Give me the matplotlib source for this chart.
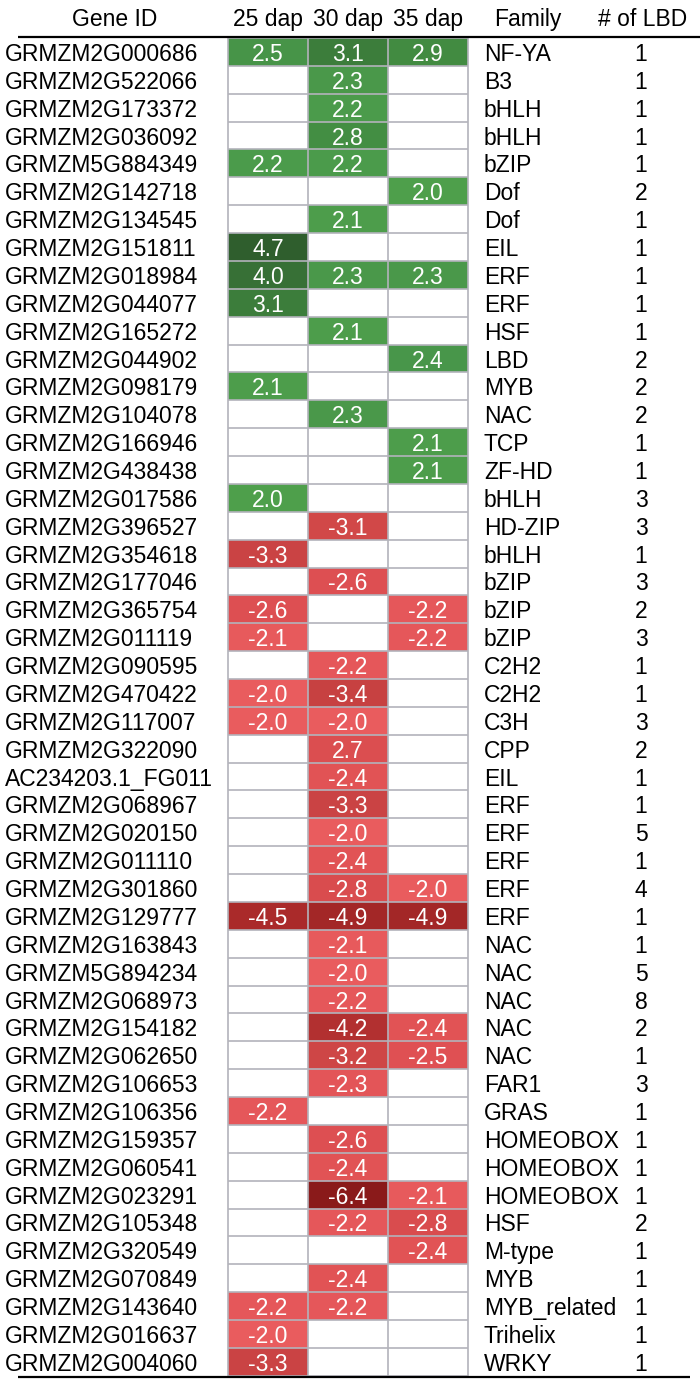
#!/usr/bin/env python3
"""Differentially expressed TF genes with LBD binding sites: log2 fold change
heat table at 25/30/35 dap, with family and number of LBD sites."""
import numpy as np
import matplotlib
matplotlib.use("Agg")
import matplotlib.pyplot as plt
from matplotlib.colors import LinearSegmentedColormap, Normalize

plt.rcParams["font.family"] = ["Liberation Sans", "DejaVu Sans"]

stages = ["25 dap", "30 dap", "35 dap"]

gene_ids = [
    "GRMZM2G000686", "GRMZM2G522066", "GRMZM2G173372", "GRMZM2G036092",
    "GRMZM5G884349", "GRMZM2G142718", "GRMZM2G134545", "GRMZM2G151811",
    "GRMZM2G018984", "GRMZM2G044077", "GRMZM2G165272", "GRMZM2G044902",
    "GRMZM2G098179", "GRMZM2G104078", "GRMZM2G166946", "GRMZM2G438438",
    "GRMZM2G017586",
    "GRMZM2G396527", "GRMZM2G354618", "GRMZM2G177046", "GRMZM2G365754",
    "GRMZM2G011119", "GRMZM2G090595", "GRMZM2G470422", "GRMZM2G117007",
    "GRMZM2G322090", "AC234203.1_FG011", "GRMZM2G068967", "GRMZM2G020150",
    "GRMZM2G011110", "GRMZM2G301860", "GRMZM2G129777", "GRMZM2G163843",
    "GRMZM5G894234", "GRMZM2G068973", "GRMZM2G154182", "GRMZM2G062650",
    "GRMZM2G106653", "GRMZM2G106356", "GRMZM2G159357", "GRMZM2G060541",
    "GRMZM2G023291", "GRMZM2G105348", "GRMZM2G320549", "GRMZM2G070849",
    "GRMZM2G143640", "GRMZM2G016637", "GRMZM2G004060",
]

nan = np.nan
fc_25 = [2.5, nan, nan, nan, 2.2, nan, nan, 4.7, 4.0, 3.1, nan, nan, 2.1,
         nan, nan, nan, 2.0,
         nan, -3.3, nan, -2.6, -2.1, nan, -2.0, -2.0, nan, nan, nan, nan,
         nan, nan, -4.5, nan, nan, nan, nan, nan, nan, -2.2, nan, nan, nan,
         nan, nan, nan, -2.2, -2.0, -3.3]
fc_30 = [3.1, 2.3, 2.2, 2.8, 2.2, nan, 2.1, nan, 2.3, nan, 2.1, nan, nan,
         2.3, nan, nan, nan,
         -3.1, nan, -2.6, nan, nan, -2.2, -3.4, -2.0, 2.7, -2.4, -3.3, -2.0,
         -2.4, -2.8, -4.9, -2.1, -2.0, -2.2, -4.2, -3.2, -2.3, nan, -2.6,
         -2.4, -6.4, -2.2, nan, -2.4, -2.2, nan, nan]
fc_35 = [2.9, nan, nan, nan, nan, 2.0, nan, nan, 2.3, nan, nan, 2.4, nan,
         nan, 2.1, 2.1, nan,
         nan, nan, nan, -2.2, -2.2, nan, nan, nan, nan, nan, nan, nan,
         nan, -2.0, -4.9, nan, nan, nan, -2.4, -2.5, nan, nan, nan,
         nan, -2.1, -2.8, -2.4, nan, nan, nan, nan]

families = [
    "NF-YA", "B3", "bHLH", "bHLH", "bZIP", "Dof", "Dof", "EIL", "ERF", "ERF",
    "HSF", "LBD", "MYB", "NAC", "TCP", "ZF-HD", "bHLH",
    "HD-ZIP", "bHLH", "bZIP", "bZIP", "bZIP", "C2H2", "C2H2", "C3H", "CPP",
    "EIL", "ERF", "ERF", "ERF", "ERF", "ERF", "NAC", "NAC", "NAC", "NAC",
    "NAC", "FAR1", "GRAS", "HOMEOBOX", "HOMEOBOX", "HOMEOBOX", "HSF",
    "M-type", "MYB", "MYB_related", "Trihelix", "WRKY",
]
n_lbd = [1, 1, 1, 1, 1, 2, 1, 1, 1, 1, 1, 2, 2, 2, 1, 1, 3,
         3, 1, 3, 2, 3, 1, 1, 3, 2, 1, 1, 5, 1, 4, 1, 1, 5, 8, 2, 1, 3, 1,
         1, 1, 1, 2, 1, 1, 1, 1, 1]
n_up = 17  # first rows are up-regulated, the rest down-regulated

W, H = 700, 1381
ROW_TOP, ROW_H = 38.0, 27.87
CELL_X = [228, 308, 388, 468]


def main():
    fc = np.array([fc_25, fc_30, fc_35]).T
    n = len(gene_ids)
    up = np.zeros(n, bool)
    up[:n_up] = True

    greens = LinearSegmentedColormap.from_list(
        "g", [(0, "#4e9f4b"), (0.15, "#48964a"), (0.33, "#428c41"),
              (0.41, "#3c7d3b"), (0.74, "#377036"), (1, "#2f5e2d")])
    reds = LinearSegmentedColormap.from_list(
        "r", [(0, "#e95c5e"), (0.114, "#df5053"), (0.227, "#d44a4b"),
              (0.318, "#c74141"), (0.568, "#aa2a2a"), (1, "#8a1a1a")])

    fig = plt.figure(figsize=(W / 100, H / 100), dpi=100)
    ax = fig.add_axes([0, 0, 1, 1])
    ax.set_xlim(0, W)
    y_top = -0.5 - ROW_TOP / ROW_H
    y_bot = y_top + H / ROW_H
    ax.set_ylim(y_bot, y_top)
    ax.axis("off")

    yedges = np.arange(n + 1) - 0.5
    mag = np.abs(fc)
    up_vals = np.ma.masked_where(~up[:, None] | np.isnan(fc), mag)
    dn_vals = np.ma.masked_where(up[:, None] | np.isnan(fc), mag)
    ax.pcolormesh(CELL_X, yedges, up_vals, cmap=greens,
                  norm=Normalize(2.0, 4.7))
    ax.pcolormesh(CELL_X, yedges, dn_vals, cmap=reds,
                  norm=Normalize(2.0, 6.4))

    grid_c = "#b3b3bb"
    ax.hlines(yedges, CELL_X[0], CELL_X[-1], color=grid_c, lw=1.2)
    ax.vlines(CELL_X, yedges[0], yedges[-1], color=grid_c, lw=1.2)

    xc = [(a + b) / 2 for a, b in zip(CELL_X[:-1], CELL_X[1:])]
    fs = 16.5
    for i in range(n):
        ax.text(5, i, gene_ids[i], ha="left", va="center_baseline",
                fontsize=fs)
        ax.text(484, i, families[i], ha="left", va="center_baseline",
                fontsize=fs)
        ax.text(641, i, str(n_lbd[i]), ha="center", va="center_baseline",
                fontsize=fs)
        for j in range(3):
            if not np.isnan(fc[i, j]):
                ax.text(xc[j], i, f"{fc[i, j]:.1f}", ha="center",
                        va="center_baseline", fontsize=fs, color="white")

    hy = y_top + 17 / ROW_H
    ax.text(115, hy, "Gene ID", ha="center", va="center_baseline",
            fontsize=fs)
    for j, s in enumerate(stages):
        ax.text(xc[j], hy, s, ha="center", va="center_baseline",
                fontsize=fs)
    ax.text(528, hy, "Family", ha="center", va="center_baseline",
            fontsize=fs)
    ax.text(643, hy, "# of LBD", ha="center", va="center_baseline",
            fontsize=fs)

    ax.hlines(-0.5 - 0.04, 18, 700, color="black", lw=1.6)
    ax.hlines(n - 0.5 + 0.04, 18, 690, color="black", lw=1.6)

    fig.savefig("out.png", dpi=100)


if __name__ == "__main__":
    main()
